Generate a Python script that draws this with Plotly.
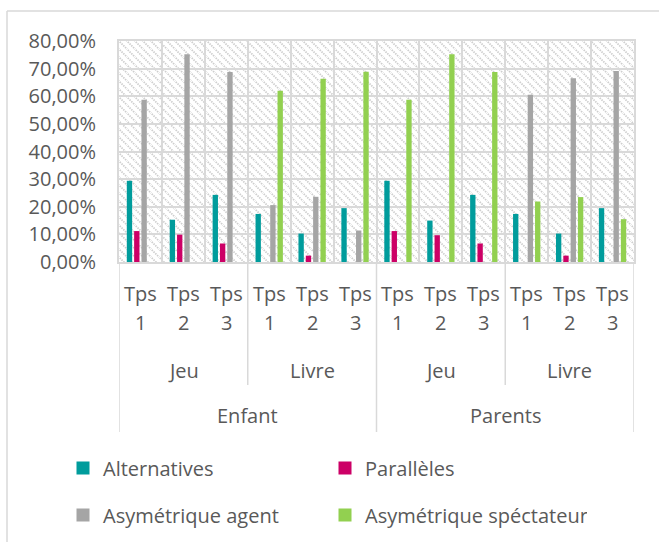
import base64
import plotly.graph_objects as go

# ---- data -------------------------------------------------------------
populations = ["Enfant", "Parents"]
contexts = ["Jeu", "Livre"]
times = ["Tps 1", "Tps 2", "Tps 3"]

series_names = ["Alternatives", "Parallèles", "Asymétrique agent", "Asymétrique spéctateur"]
alternatives = [0.294, 0.153, 0.243, 0.174, 0.103, 0.195, 0.294, 0.150, 0.243, 0.174, 0.103, 0.195]
paralleles = [0.112, 0.099, 0.067, 0.0, 0.023, 0.0, 0.112, 0.097, 0.067, 0.0, 0.023, 0.0]
asym_agent = [0.587, 0.752, 0.688, 0.206, 0.236, 0.114, 0.0, 0.0, 0.0, 0.605, 0.665, 0.691]
asym_spect = [0.0, 0.0, 0.0, 0.620, 0.663, 0.689, 0.587, 0.752, 0.688, 0.219, 0.235, 0.155]

colors = ["#009C9C", "#CC0066", "#A5A5A5", "#92D050"]
y_ticks = [0.0, 0.1, 0.2, 0.3, 0.4, 0.5, 0.6, 0.7, 0.8]

# ---- geometry -----------------------------------------------------------
W, H = 659, 542
L, R, T, B = 119, 25, 41, 280
plot_w = W - L - R
plot_h = H - T - B
font_family = "Open Sans"
text_color = "#595959"
grid_color = "#D9D9D9"


def py(pixel_y):
    """Pixel row -> paper y coordinate."""
    return (H - B - pixel_y) / plot_h


def px(pixel_x):
    """Pixel column -> paper x coordinate."""
    return (pixel_x - L) / plot_w


# category index for every (population, context, time) triple
cats = [(p, c, t) for p in populations for c in contexts for t in times]
x_idx = list(range(len(cats)))
n = len(cats)

fig = go.Figure()
for k, (name, vals, col) in enumerate(zip(series_names, [alternatives, paralleles, asym_agent, asym_spect], colors)):
    fig.add_trace(go.Bar(
        x=x_idx, y=vals, name=name, marker=dict(color=col, line=dict(width=0)),
        showlegend=False, hoverinfo="skip",
    ))
    # legend key: square swatch in the series colour
    fig.add_trace(go.Scatter(
        x=[None], y=[None], mode="markers", name=name,
        marker=dict(symbol="square", size=13, color=col, line=dict(width=0)),
        legend="legend" if k < 2 else "legend2",
    ))

# hatched plot background
svg = (
    f"<svg xmlns='http://www.w3.org/2000/svg' width='{plot_w}' height='{plot_h}'>"
    "<defs><pattern id='h' width='8' height='8' patternUnits='userSpaceOnUse'>"
    "<path d='M-1,-1 L9,9 M7,-1 L9,1 M-1,7 L1,9' stroke='#CECECE' stroke-width='1.8' "
    "stroke-dasharray='1.5,1'/></pattern></defs>"
    "<rect width='100%' height='100%' fill='white'/>"
    "<rect width='100%' height='100%' fill='url(#h)'/></svg>"
)
src = "data:image/svg+xml;base64," + base64.b64encode(svg.encode()).decode()
fig.add_layout_image(dict(
    source=src, xref="x", yref="y", x=-0.5, y=y_ticks[-1], sizex=n, sizey=y_ticks[-1],
    xanchor="left", yanchor="top", sizing="stretch", layer="below",
))

shapes = []
# category separators below the axis
for xb in [-0.5, n / 2 - 0.5, n - 0.5]:
    shapes.append(dict(type="line", xref="x", yref="paper", x0=xb, x1=xb, y0=0, y1=py(432),
                       line=dict(color=grid_color, width=1.5)))
for xb in [len(times) - 0.5, 3 * len(times) - 0.5]:
    shapes.append(dict(type="line", xref="x", yref="paper", x0=xb, x1=xb, y0=0, y1=py(385),
                       line=dict(color=grid_color, width=1.5)))
# chart frame
shapes.append(dict(type="line", xref="paper", yref="paper", x0=px(7), x1=px(W + 20), y0=py(11), y1=py(11),
                   line=dict(color=grid_color, width=1.5)))
shapes.append(dict(type="line", xref="paper", yref="paper", x0=px(7), x1=px(7), y0=py(11), y1=py(H + 20),
                   line=dict(color=grid_color, width=1.5)))

annotations = []
lab_font = dict(family=font_family, size=20, color=text_color)
for i, (p, c, t) in enumerate(cats):
    word, num = t.split(" ")
    annotations.append(dict(x=i, y=py(293), xref="x", yref="paper", text=word, showarrow=False,
                            font=lab_font, xanchor="center", yanchor="middle"))
    annotations.append(dict(x=i, y=py(322), xref="x", yref="paper", text=num, showarrow=False,
                            font=lab_font, xanchor="center", yanchor="middle"))
nt = len(times)
for k in range(len(populations) * len(contexts)):
    annotations.append(dict(x=k * nt + (nt - 1) / 2, y=py(370), xref="x", yref="paper",
                            text=contexts[k % len(contexts)], showarrow=False, font=lab_font,
                            xanchor="center", yanchor="middle"))
npc = nt * len(contexts)
for k, p in enumerate(populations):
    annotations.append(dict(x=k * npc + (npc - 1) / 2, y=py(415), xref="x", yref="paper",
                            text=p, showarrow=False, font=lab_font,
                            xanchor="center", yanchor="middle"))

leg_common = dict(orientation="h", entrywidth=217, entrywidthmode="pixels", itemwidth=30,
                  font=dict(family=font_family, size=20, color=text_color),
                  xanchor="left", yanchor="middle", bgcolor="rgba(0,0,0,0)")

fig.update_layout(
    width=W, height=H,
    margin=dict(l=L, r=R, t=T, b=B, autoexpand=False),
    paper_bgcolor="white", plot_bgcolor="white",
    separators=", ",
    font=dict(family=font_family, color=text_color, size=20),
    barmode="group", bargap=0.317, bargroupgap=0.27,
    showlegend=True,
    legend=dict(x=px(63), y=py(468), **leg_common),
    legend2=dict(x=px(63), y=py(515), **leg_common),
    shapes=shapes, annotations=annotations,
    xaxis=dict(range=[-0.5, n - 0.5], tickvals=[i - 0.5 for i in range(n + 1)], showticklabels=False,
               showgrid=True, gridcolor=grid_color, gridwidth=2, zeroline=False,
               showline=True, mirror=True, linecolor=grid_color, linewidth=2, ticks=""),
    yaxis=dict(range=[0, y_ticks[-1]], tickvals=y_ticks, tickformat=".2%",
               showgrid=True, gridcolor=grid_color, gridwidth=2, zeroline=False,
               showline=True, mirror=True, linecolor=grid_color, linewidth=2, ticks="",
               ticklabelstandoff=17, tickfont=dict(family=font_family, size=20, color=text_color)),
)

fig.write_html("out.html")
